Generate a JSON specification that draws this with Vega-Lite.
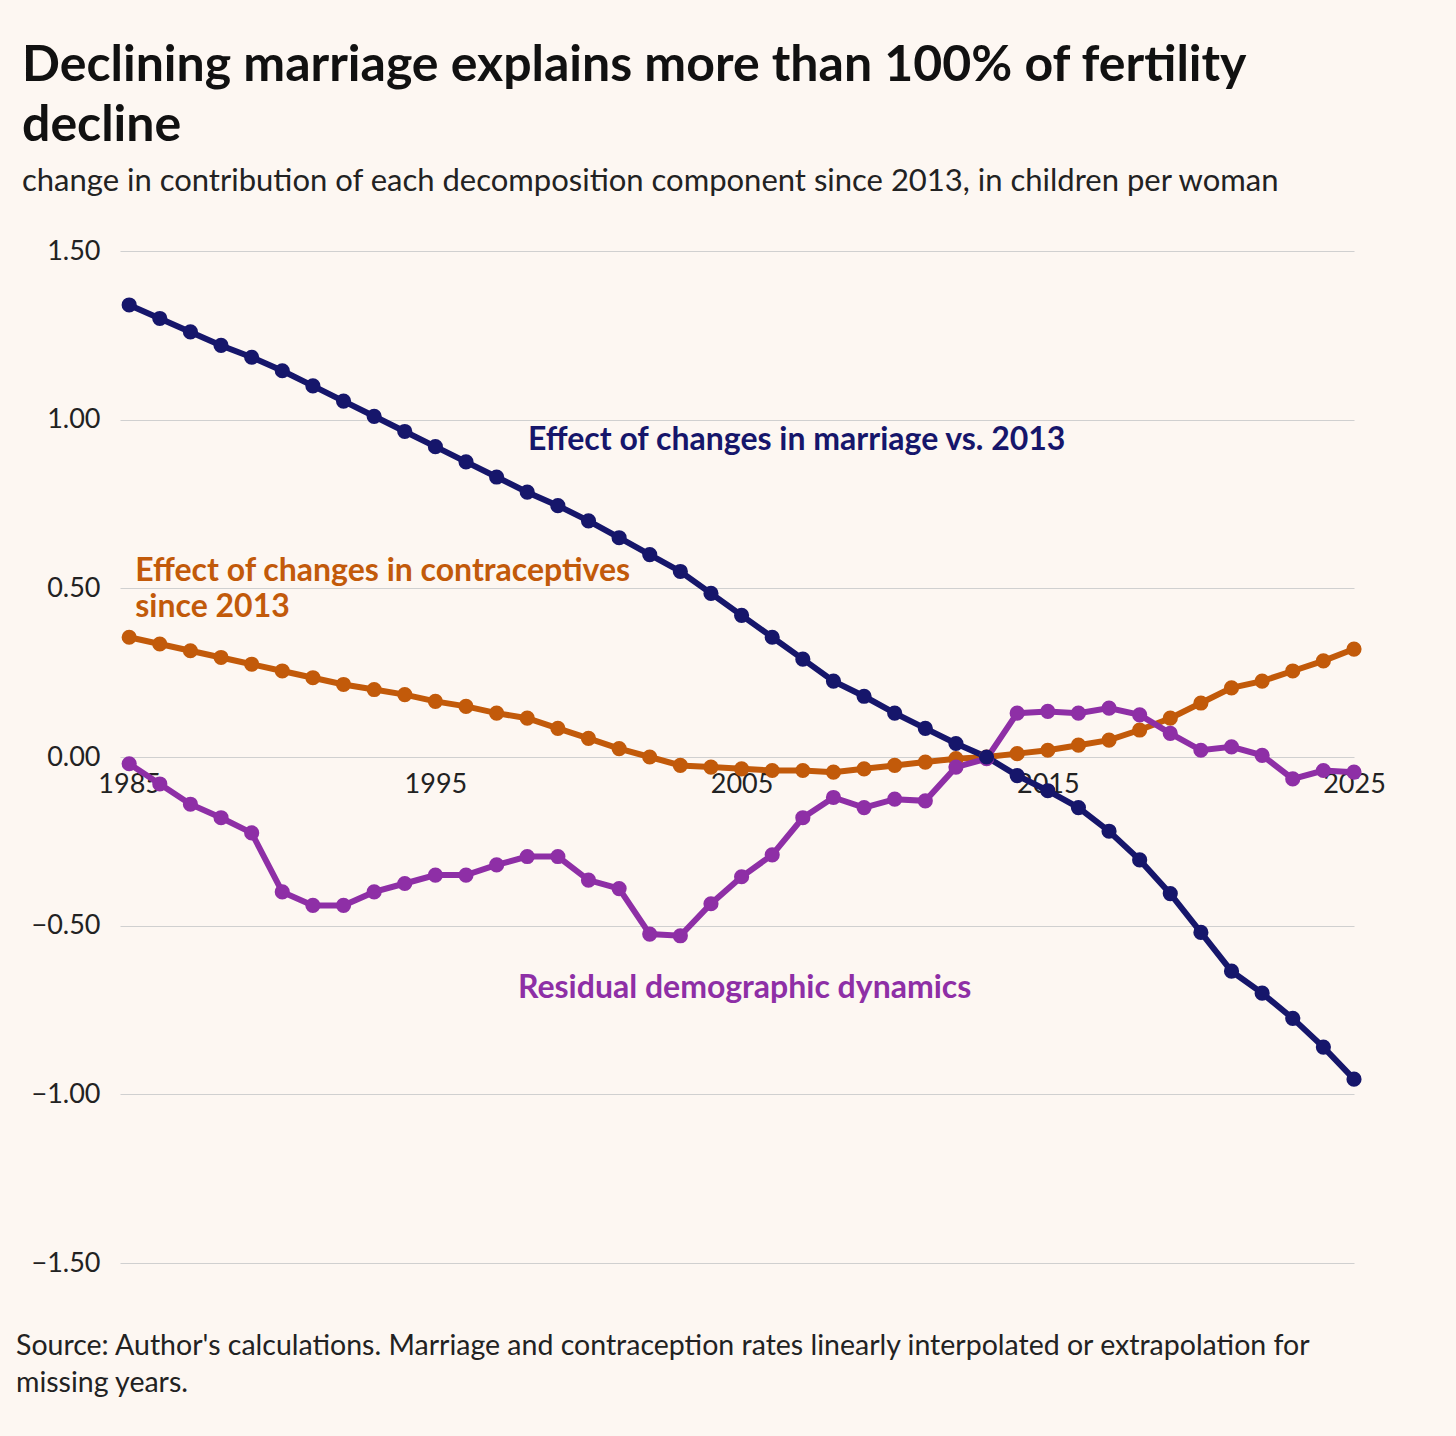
{
  "$schema": "https://vega.github.io/schema/vega-lite/v6.json",
  "width": 1234,
  "height": 1012,
  "autosize": "none",
  "padding": {"left": 120, "top": 251, "right": 102, "bottom": 173},
  "background": "#fdf7f2",
  "config": {
    "font": "Lato",
    "view": {"stroke": null},
    "axis": {"labelFont": "Lato", "labelColor": "#222", "labelFontSize": 27}
  },
  "title": {
    "text": ["Declining marriage explains more than 100% of fertility", "decline"],
    "subtitle": "change in contribution of each decomposition component since 2013, in children per woman",
    "anchor": "start",
    "frame": "group",
    "dx": -98,
    "offset": 40,
    "font": "Lato",
    "fontSize": 50,
    "fontWeight": "bold",
    "lineHeight": 60,
    "color": "#111",
    "subtitleFont": "Lato",
    "subtitleFontSize": 31,
    "subtitleColor": "#222",
    "subtitlePadding": 16
  },
  "datasets": {
    "series": [
      {"year":1985,"m":1.34,"c":0.355,"r":-0.02},
      {"year":1986,"m":1.30,"c":0.335,"r":-0.08},
      {"year":1987,"m":1.26,"c":0.315,"r":-0.14},
      {"year":1988,"m":1.22,"c":0.295,"r":-0.18},
      {"year":1989,"m":1.185,"c":0.275,"r":-0.225},
      {"year":1990,"m":1.145,"c":0.255,"r":-0.40},
      {"year":1991,"m":1.10,"c":0.235,"r":-0.44},
      {"year":1992,"m":1.055,"c":0.215,"r":-0.44},
      {"year":1993,"m":1.01,"c":0.20,"r":-0.40},
      {"year":1994,"m":0.965,"c":0.185,"r":-0.375},
      {"year":1995,"m":0.92,"c":0.165,"r":-0.35},
      {"year":1996,"m":0.875,"c":0.15,"r":-0.35},
      {"year":1997,"m":0.83,"c":0.13,"r":-0.32},
      {"year":1998,"m":0.785,"c":0.115,"r":-0.295},
      {"year":1999,"m":0.745,"c":0.085,"r":-0.295},
      {"year":2000,"m":0.70,"c":0.055,"r":-0.365},
      {"year":2001,"m":0.65,"c":0.025,"r":-0.39},
      {"year":2002,"m":0.60,"c":0.0,"r":-0.525},
      {"year":2003,"m":0.55,"c":-0.025,"r":-0.53},
      {"year":2004,"m":0.485,"c":-0.03,"r":-0.435},
      {"year":2005,"m":0.42,"c":-0.035,"r":-0.355},
      {"year":2006,"m":0.355,"c":-0.04,"r":-0.29},
      {"year":2007,"m":0.29,"c":-0.04,"r":-0.18},
      {"year":2008,"m":0.225,"c":-0.045,"r":-0.12},
      {"year":2009,"m":0.18,"c":-0.035,"r":-0.15},
      {"year":2010,"m":0.13,"c":-0.025,"r":-0.125},
      {"year":2011,"m":0.085,"c":-0.015,"r":-0.13},
      {"year":2012,"m":0.04,"c":-0.005,"r":-0.03},
      {"year":2013,"m":0.0,"c":0.0,"r":-0.005},
      {"year":2014,"m":-0.055,"c":0.01,"r":0.13},
      {"year":2015,"m":-0.10,"c":0.02,"r":0.135},
      {"year":2016,"m":-0.15,"c":0.035,"r":0.13},
      {"year":2017,"m":-0.22,"c":0.05,"r":0.145},
      {"year":2018,"m":-0.305,"c":0.08,"r":0.125},
      {"year":2019,"m":-0.405,"c":0.115,"r":0.07},
      {"year":2020,"m":-0.52,"c":0.16,"r":0.02},
      {"year":2021,"m":-0.635,"c":0.205,"r":0.03},
      {"year":2022,"m":-0.70,"c":0.225,"r":0.005},
      {"year":2023,"m":-0.775,"c":0.255,"r":-0.065},
      {"year":2024,"m":-0.86,"c":0.285,"r":-0.04},
      {"year":2025,"m":-0.955,"c":0.32,"r":-0.045}
    ],
    "labels": [
      {"x":2006.8,"y":0.94,"t":"Effect of changes in marriage vs. 2013","s":"m"},
      {"x":2005.1,"y":-0.685,"t":"Residual demographic dynamics","s":"r"}
    ],
    "leftlabels": [
      {"x":1985.2,"y":0.55,"t":"Effect of changes in contraceptives","s":"c"},
      {"x":1985.2,"y":0.445,"t":"since 2013","s":"c"}
    ],
    "note": [
      {"x":1984.7,"y":-1.745,"t":"Source: Author's calculations. Marriage and contraception rates linearly interpolated or extrapolation for"},
      {"x":1984.7,"y":-1.855,"t":"missing years."}
    ]
  },
  "layer": [
    {
      "data": {"name": "series"},
      "transform": [{"fold": ["c", "r", "m"], "as": ["s", "v"]}],
      "mark": {"type": "line", "strokeWidth": 6, "point": {"size": 230, "filled": true, "opacity": 1}},
      "encoding": {
        "x": {
          "field": "year", "type": "quantitative",
          "scale": {"domain": [1984.7, 2025], "nice": false, "zero": false},
          "axis": {"values": [1985, 1995, 2005, 2015, 2025], "format": "d", "grid": false, "domain": false, "ticks": false, "title": null, "offset": -506, "labelPadding": 14, "labelFontSize": 27, "labelFlush": false}
        },
        "y": {
          "field": "v", "type": "quantitative",
          "scale": {"domain": [-1.5, 1.5], "nice": false},
          "axis": {"values": [-1.5, -1, -0.5, 0, 0.5, 1, 1.5], "labelExpr": "format(datum.value, '.2f')", "domain": false, "ticks": false, "title": null, "gridColor": "#d0d0d0", "gridWidth": 1.2, "labelPadding": 20}
        },
        "color": {
          "field": "s", "type": "nominal",
          "scale": {"domain": ["m", "c", "r"], "range": ["#16166b", "#c25a0a", "#8e2fa6"]},
          "legend": null
        },
        "detail": {"field": "s"}
      }
    },
    {
      "data": {"name": "labels"},
      "mark": {"type": "text", "fontSize": 32, "fontWeight": "bold", "baseline": "middle", "align": "center"},
      "encoding": {
        "x": {"field": "x", "type": "quantitative"},
        "y": {"field": "y", "type": "quantitative"},
        "text": {"field": "t"},
        "color": {"field": "s", "type": "nominal", "scale": {"domain": ["m", "c", "r"], "range": ["#16166b", "#c25a0a", "#8e2fa6"]}, "legend": null}
      }
    },
    {
      "data": {"name": "leftlabels"},
      "mark": {"type": "text", "fontSize": 32, "fontWeight": "bold", "baseline": "middle", "align": "left"},
      "encoding": {
        "x": {"field": "x", "type": "quantitative"},
        "y": {"field": "y", "type": "quantitative"},
        "text": {"field": "t"},
        "color": {"field": "s", "type": "nominal", "scale": {"domain": ["m", "c", "r"], "range": ["#16166b", "#c25a0a", "#8e2fa6"]}, "legend": null}
      }
    },
    {
      "data": {"name": "note"},
      "mark": {"type": "text", "fontSize": 28.5, "align": "left", "baseline": "middle", "dx": -104, "color": "#222", "clip": false},
      "encoding": {
        "x": {"field": "x", "type": "quantitative"},
        "y": {"field": "y", "type": "quantitative"},
        "text": {"field": "t"}
      }
    }
  ]
}
